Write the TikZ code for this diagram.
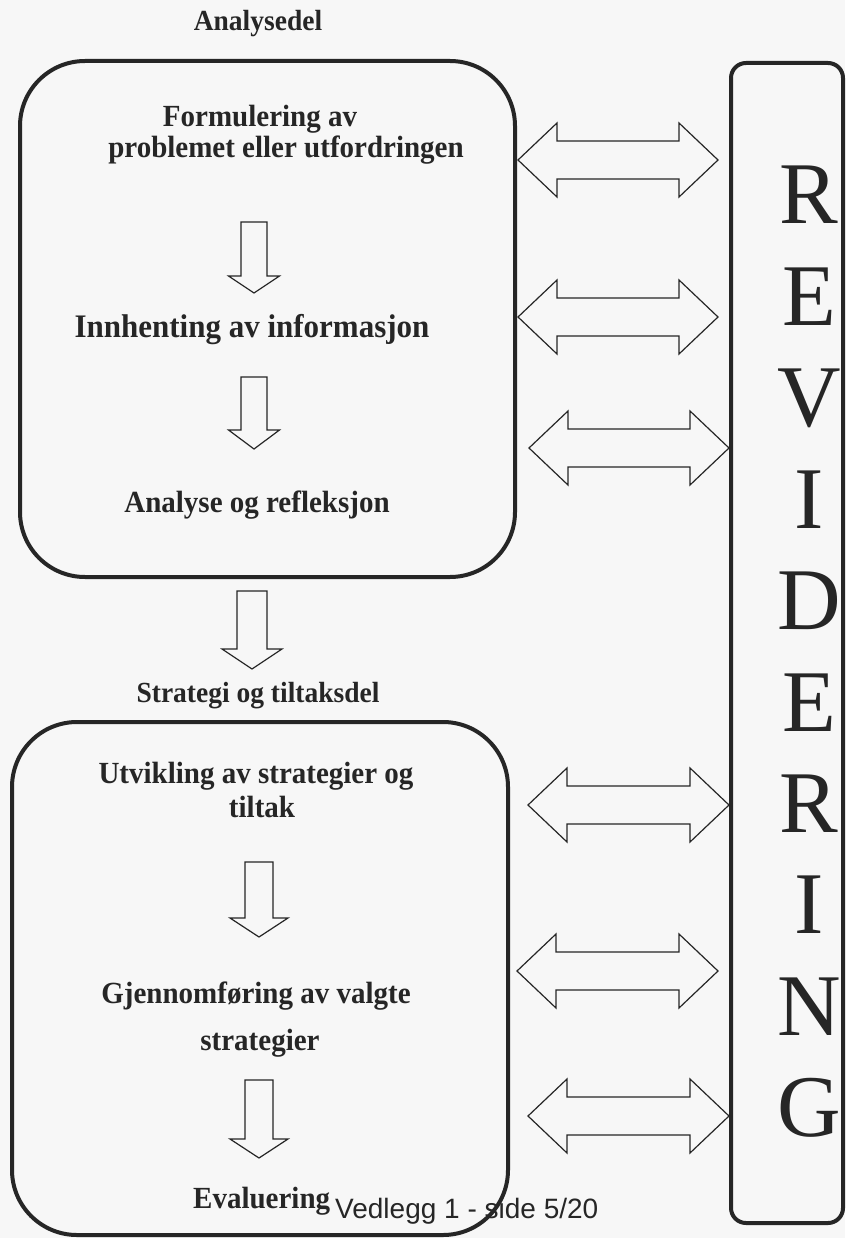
\documentclass[tikz,border=0pt]{standalone}
\usepackage{fontspec}
\setmainfont{Liberation Serif}
\newfontfamily\sansf{Liberation Sans}
\newcommand\dblarrow[3]{% left tip x, right tip x, centre y
  \draw[blk] (#1,#3) -- ({#1+39},{#3-37}) -- ({#1+39},{#3-19}) -- ({#2-39},{#3-19})
    -- ({#2-39},{#3-37}) -- (#2,#3) -- ({#2-39},{#3+37}) -- ({#2-39},{#3+19})
    -- ({#1+39},{#3+19}) -- ({#1+39},{#3+37}) -- cycle;}
\newcommand\dnarrow[6]{% cx, top, head base, tip, shaft half, head half
  \draw[blk] ({#1-#5},#2) -- ({#1+#5},#2) -- ({#1+#5},#3) -- ({#1+#6},#3) -- (#1,#4)
    -- ({#1-#6},#3) -- ({#1-#5},#3) -- cycle;}
\begin{document}
\begin{tikzpicture}[x=1pt,y=-1pt,
  box/.style={draw=black!85, line width=4pt, rounded corners=65pt, inner sep=0pt},
  blk/.style={draw=black!85, line width=1.2pt, line join=miter},
  lbl/.style={anchor=base, inner sep=0pt, text=black!85, yscale=1.06, transform shape, font=\bfseries\fontsize{29}{34}\selectfont},
  head/.style={anchor=base, inner sep=0pt, text=black!85, yscale=1.06, transform shape, font=\bfseries\fontsize{27.5}{32}\selectfont},
  big/.style={anchor=base, inner sep=0pt, text=black!85, font=\fontsize{88}{88}\selectfont}]
\fill[black!3] (0,0) rectangle (845,1238);
\useasboundingbox (0,0) rectangle (845,1238);
% boxes
\node[box, minimum width=495pt, minimum height=516pt] (upper) at (267.5,319) {};
\node[box, minimum width=496pt, minimum height=513pt] (lower) at (260,978.5) {};
\node[box, rounded corners=15pt, minimum width=112pt, minimum height=1160pt] (rev) at (787,643) {};
% headings
\node[head] (h1) at (258,31) {Analysedel};
\node[head] (h2) at (258,702) {Strategi og tiltaksdel};
% upper texts
\node[lbl] (t1a) at (260,127) {Formulering av};
\node[lbl] (t1b) at (286,158) {problemet eller utfordringen};
\node[lbl, font=\bfseries\fontsize{31}{36}\selectfont] (t2) at (252,337) {Innhenting av informasjon};
\node[lbl] (t3) at (257,512) {Analyse og refleksjon};
% lower texts
\node[lbl] (t4a) at (256,783) {Utvikling av strategier og};
\node[lbl] (t4b) at (262,817) {tiltak};
\node[lbl] (t5a) at (256,1003) {Gjennomføring av valgte};
\node[lbl] (t5b) at (260,1050) {strategier};
\node[lbl, anchor=base west] (t6) at (193,1208) {Evaluering};
\node[anchor=base west, inner sep=0pt, text=black!85, font=\sansf\fontsize{28}{32}\selectfont] (foot) at (335,1218) {Vedlegg 1 - side 5/20};
% down arrows
\dnarrow{254}{222}{276}{293}{13}{25.5}
\dnarrow{254}{377}{430}{449}{13}{25.5}
\dnarrow{252}{591}{649}{669}{15}{30}
\dnarrow{259}{862}{918}{937}{14}{29}
\dnarrow{259}{1080}{1139}{1158}{14}{29}
% double arrows
\dblarrow{518}{718}{160}
\dblarrow{518}{718}{317}
\dblarrow{529}{729}{448}
\dblarrow{528}{729}{805}
\dblarrow{517}{718}{971}
\dblarrow{528}{729}{1116}
% REVIDERING
\foreach \c [count=\i from 0] in {R,E,V,I,D,E,R,I,N,G}
  \node[big] (L\i) at (809,{224+101.4*\i}) {\c};
\end{tikzpicture}
\end{document}
